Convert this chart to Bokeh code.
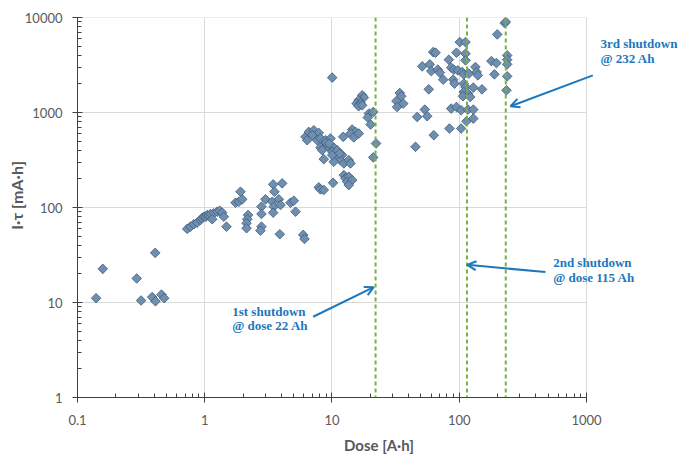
from bokeh.plotting import figure
from bokeh.models import (Range1d, FixedTicker, CustomJSTickFormatter, Span, Arrow,
                          OpenHead, Label, ColumnDataSource)
from bokeh.embed import file_html
from bokeh.resources import INLINE
import math

# ---- data (Dose [A·h], I·tau [mA·h]) ----
dose = [
    0.14, 0.158, 0.292, 0.316, 0.408, 0.386, 0.41, 0.457, 0.48,
    0.728, 0.773, 0.82, 0.872, 0.926, 0.95, 0.983, 1.02, 1.045, 1.08, 1.11, 1.178, 1.253, 1.313, 1.372, 1.412, 1.145, 1.482,
    1.91, 1.745, 1.853, 1.97, 2.19, 2.16, 2.13, 2.13,
    2.79, 2.79, 2.79, 2.74, 3.0, 3.45, 4.06, 3.53, 3.39, 3.49, 3.45, 3.82, 3.94, 3.89, 4.72, 5.01, 5.17,
    5.94, 6.08,
    6.19, 6.57, 7.2, 7.87, 6.38, 7.65, 8.12, 8.89, 9.73, 8.62, 8.12, 8.37, 9.26, 10.33, 10.04, 10.66, 12.0, 11.67,
    12.39, 13.55, 13.97, 10.33, 10.04, 8.62, 12.25, 14.41, 15.3, 13.97, 14.84, 16.24, 9.0, 9.5, 11.0, 11.5, 7.0,
    12.39, 12.77, 13.55, 13.16, 14.41, 13.55, 10.2, 7.87, 8.12, 8.62,
    10.04,
    17.27, 17.8, 16.2, 15.6, 16.75, 16.2, 17.27,
    19.5, 21.1, 19.1, 20.1, 22.2, 21.1,
    228, 232, 199, 101, 112, 62.4, 65.1, 95.1, 112, 238, 238, 238, 238, 235, 179, 196, 189,
    82.8, 112, 51.2, 58.7, 60.2, 67.8, 70.4, 86.4, 90.6, 97.5, 105.4, 108.6, 119, 134, 137, 140,
    74.8, 89.6, 91.8, 108.6, 112, 129, 151, 57.6, 108.6, 117, 107, 122,
    34.1, 35, 32.1, 36.3, 32.5, 53.6, 56, 46.7, 86.4, 95.1, 103.5, 117, 129, 129, 114, 103.5, 83.8, 63.1, 45.3,
]
itau = [
    11.1, 22.6, 17.9, 10.5, 33.3, 11.4, 10.3, 12.1, 11.1,
    59.5, 62.9, 66.6, 69.2, 73.9, 77, 80.0, 80, 83.4, 82, 85.5, 86.9, 90.3, 92.5, 88.2, 80.0, 75.2, 62.9,
    146.5, 112.3, 115, 121.9, 83.4, 75.2, 68.3, 60.5,
    102, 85.5, 62.9, 57.1, 121.9, 175, 179.5, 146.5, 115, 102, 88.2, 121.9, 106.3, 52.3, 112.3, 117.9, 90.3,
    51.5, 46.7,
    554, 625, 651, 610, 511, 511, 533, 511, 533, 453, 428, 402, 442, 428, 386, 342, 356, 315,
    291, 315, 291, 303, 356, 323, 554, 662, 625, 601, 546, 601, 480, 470, 400, 370, 580,
    219, 203, 211, 187, 194, 172, 182, 163, 155, 153,
    2328,
    1518, 1436, 1344, 1242, 1260, 1164, 1192,
    975, 1014, 885, 747, 472, 337,
    8714, 9000, 6634, 5505, 5505, 4324, 4263, 4260, 4160, 3990, 3597, 3213, 2404, 1713, 3477, 3314, 2521,
    3597, 3538, 3060, 3213, 2730, 2826, 2625, 2965, 2826, 2778, 2668, 2521, 2566, 3009, 2668, 2460,
    2218, 2218, 2014, 2014, 1855, 1828, 1754, 1754, 1644, 1581, 1482, 1457,
    1604, 1482, 1322, 1242, 1143, 1073, 914, 898, 1099, 1143, 1056, 1073, 1073, 863, 809, 678, 678, 577, 435,
]

shutdown_doses = [22, 115, 232]
x_ticks = [0.1, 1, 10, 100, 1000]
y_ticks = [1, 10, 100, 1000, 10000]
annotations = [
    # (lines, label x, label y line1, label y line2, arrow tail x, y, arrow head x, y)
    (["1st shutdown", "@ dose 22 Ah"], 1.644, 8.06, 5.70, 7.11, 7.08, 21.3, 14.5),
    (["2nd shutdown", "@ dose 115 Ah"], 547, 26.3, 18.3, 476, 20.9, 115.4, 24.9),
    (["3rd shutdown", "@ 232 Ah"], 1288, 5373, 3683, 1121, 2460, 253, 1164),
]

TICK_FONT = "Lato"
GRAY = "#595959"
BLUE = "#1b78be"
GRID = "#d9d9d9"

# x range runs past 1000 only to leave room for the right-hand annotation
p = figure(width=680, height=456, x_axis_type="log", y_axis_type="log",
           x_range=Range1d(0.1, 5480), y_range=Range1d(1, 10000),
           output_backend="svg", toolbar_location=None,
           min_border_left=77, min_border_right=0, min_border_top=17, min_border_bottom=58)
p.background_fill_color = "white"
p.border_fill_color = "white"
p.outline_line_color = None

def minors(lo, hi):
    out = []
    for k in range(lo, hi):
        for m in range(2, 10):
            out.append(m * 10 ** k)
    return out

p.xaxis.ticker = FixedTicker(ticks=x_ticks, minor_ticks=minors(-1, 3))
p.yaxis.ticker = FixedTicker(ticks=y_ticks, minor_ticks=minors(0, 4))
p.xaxis.formatter = CustomJSTickFormatter(code="return tick >= 1 ? tick.toFixed(0) : String(tick);")
p.yaxis.formatter = CustomJSTickFormatter(code="return tick >= 1 ? tick.toFixed(0) : String(tick);")
p.xaxis.bounds = (x_ticks[0], x_ticks[-1])

for ax in (p.xaxis[0], p.yaxis[0]):
    ax.axis_line_color = "#404040"
    ax.major_tick_line_color = "#404040"
    ax.minor_tick_line_color = "#404040"
    ax.major_tick_in = 5
    ax.major_tick_out = 5
    ax.minor_tick_in = 4
    ax.minor_tick_out = 0
    ax.major_label_text_font = TICK_FONT
    ax.major_label_text_font_size = "13px"
    ax.major_label_text_color = GRAY
    ax.axis_label_text_font = TICK_FONT
    ax.axis_label_text_font_size = "15px"
    ax.axis_label_text_font_style = "bold"
    ax.axis_label_text_color = GRAY

p.xaxis.axis_label = "Dose [A·h]"
p.xaxis.major_label_standoff = 12
p.xaxis.axis_label_standoff = 8
# leading no-break spaces nudge the visible label upward, as in the original
p.yaxis.axis_label = "\u00a0" * 6 + "I·τ [mA·h]"
p.yaxis.axis_label_text_font_size = "16px"
p.yaxis.major_label_standoff = 10
p.yaxis.axis_label_standoff = -4

# vertical grid lines from the x ticks; horizontal ones drawn only up to x=1000
p.xgrid.grid_line_color = GRID
p.xgrid.ticker = FixedTicker(ticks=x_ticks)
p.ygrid.visible = False
p.segment(x0=[x_ticks[0]] * len(y_ticks), x1=[x_ticks[-1]] * len(y_ticks),
          y0=y_ticks, y1=y_ticks, line_color=GRID, line_width=1)

for d in shutdown_doses:
    p.add_layout(Span(location=d, dimension="height", line_color="#77b043",
                      line_width=2, line_dash="4 3"))

src = ColumnDataSource(dict(x=dose, y=itau))
p.scatter("x", "y", source=src, marker="square", size=6.8, angle=math.pi / 4,
          fill_color="#6f8fb0", line_color="#3e5b78", line_width=0.8)

for lines, lx, ly1, ly2, tx, ty, hx, hy in annotations:
    for txt, ly in zip(lines, (ly1, ly2)):
        p.add_layout(Label(x=lx, y=ly, text=txt, text_font="Liberation Serif",
                           text_font_style="bold", text_font_size="13px",
                           text_color=BLUE, text_baseline="middle", text_align="left"))
    p.add_layout(Arrow(x_start=tx, y_start=ty, x_end=hx, y_end=hy,
                       line_color=BLUE, line_width=2,
                       end=OpenHead(size=9, line_color=BLUE, line_width=2)))

open("out.html", "w").write(file_html(p, INLINE))
